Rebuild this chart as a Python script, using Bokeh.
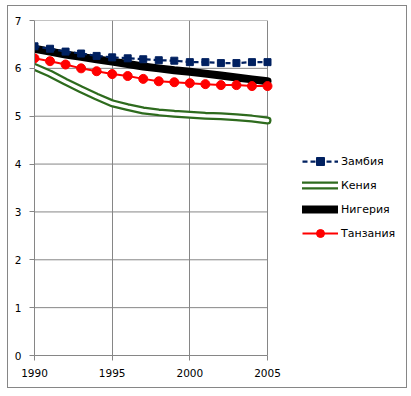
from bokeh.plotting import figure
from bokeh.models import Range1d, Legend, LegendItem, FixedTicker
from bokeh.embed import file_html
from bokeh.resources import INLINE

years = list(range(1990, 2006))
zambia = [6.46, 6.41, 6.35, 6.31, 6.26, 6.23, 6.21, 6.19, 6.17, 6.16, 6.13, 6.13, 6.11, 6.11, 6.13, 6.13]
kenya = [6.03, 5.89, 5.72, 5.56, 5.41, 5.27, 5.19, 5.12, 5.08, 5.05, 5.03, 5.01, 5.00, 4.98, 4.95, 4.91]
nigeria = [6.41, 6.35, 6.29, 6.24, 6.19, 6.14, 6.09, 6.04, 6.00, 5.96, 5.93, 5.89, 5.85, 5.81, 5.77, 5.73]
tanzania = [6.21, 6.15, 6.08, 6.00, 5.94, 5.88, 5.84, 5.78, 5.73, 5.71, 5.69, 5.67, 5.65, 5.65, 5.63, 5.63]
names = ["Замбия", "Кения", "Нигерия", "Танзания"]
x_ticks = [1990, 1995, 2000, 2005]
y_ticks = [0, 1, 2, 3, 4, 5, 6, 7]

FONT = "DejaVu Sans"
GRID = "#868686"

# layout: the data area (1990..2005) is 233 px wide; the frame continues to the
# right to hold the legend, so the x range is extended accordingly
W, LEFT, RIGHT = 400, 26, 0
frame_w = W - LEFT - RIGHT
x_end = x_ticks[0] + frame_w * (x_ticks[-1] - x_ticks[0]) / 233.0

p = figure(width=W, height=383, output_backend="svg", toolbar_location=None,
           x_range=Range1d(x_ticks[0], x_end), y_range=Range1d(y_ticks[0], y_ticks[-1]),
           min_border_left=LEFT, min_border_right=RIGHT, min_border_top=14, min_border_bottom=34,
           styles={"border": "1px solid #868686", "margin-left": "7px", "margin-top": "5px"})
p.outline_line_color = None
p.background_fill_color = "white"
p.border_fill_color = "white"

for ax, ticks in ((p.xaxis[0], x_ticks), (p.yaxis[0], y_ticks)):
    ax.ticker = FixedTicker(ticks=ticks)
    ax.axis_line_color = GRID
    ax.major_tick_line_color = GRID
    ax.major_tick_out = 5
    ax.major_tick_in = 0
    ax.minor_tick_line_color = None
    ax.major_label_text_font = FONT
    ax.major_label_text_font_size = "10.5px"
    ax.major_label_text_color = "black"
p.xaxis.bounds = (x_ticks[0], x_ticks[-1])
p.xaxis.major_label_standoff = 8
p.yaxis.major_label_standoff = 8

p.xgrid.ticker = FixedTicker(ticks=x_ticks)
p.xgrid.grid_line_color = GRID
p.ygrid.grid_line_color = None
# horizontal gridlines limited to the data area
p.segment(x0=[x_ticks[0]] * len(y_ticks), x1=[x_ticks[-1]] * len(y_ticks),
          y0=y_ticks, y1=y_ticks, line_color=GRID, line_width=1)

k1 = p.line(years, kenya, line_color="#2E6B1E", line_width=8, line_cap="round")
k2 = p.line(years, kenya, line_color="white", line_width=3.5, line_cap="round")
n1 = p.line(years, nigeria, line_color="black", line_width=8, line_cap="round")
t1 = p.line(years, tanzania, line_color="#FF0000", line_width=2)
t2 = p.scatter(years, tanzania, marker="circle", size=9, fill_color="#FF0000", line_color="#FF0000")
z1 = p.line(years, zambia, line_color="#002060", line_width=2.25, line_dash="5 3")
z2 = p.scatter(years, zambia, marker="square", size=7, fill_color="#002060", line_color="#002060")

legend = Legend(items=[
    LegendItem(label=names[0], renderers=[z1, z2]),
    LegendItem(label=names[1], renderers=[k1, k2]),
    LegendItem(label=names[2], renderers=[n1]),
    LegendItem(label=names[3], renderers=[t1, t2]),
], location=(268, 112))
legend.padding = 0
legend.margin = 0
legend.spacing = 4
legend.glyph_width = 36
legend.glyph_height = 20
legend.label_height = 20
legend.label_standoff = 3
legend.label_text_font = FONT
legend.label_text_font_size = "11px"
legend.label_text_color = "black"
legend.border_line_alpha = 0
legend.background_fill_alpha = 0
p.add_layout(legend, "center")

open("out.html", "w").write(file_html(p, INLINE))
